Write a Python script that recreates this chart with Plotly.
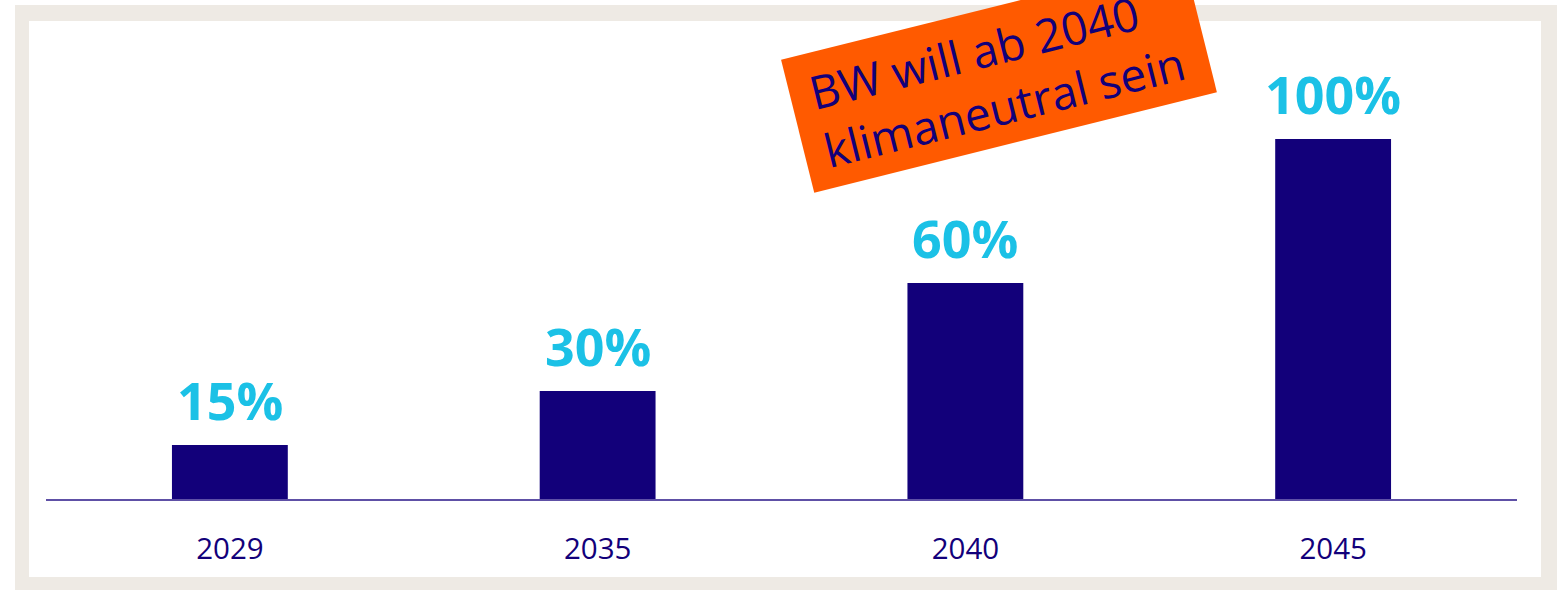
import math
import plotly.graph_objects as go

categories = ["2029", "2035", "2040", "2045"]
values = [15, 30, 60, 100]
value_labels = ["15%", "30%", "60%", "100%"]
callout_text = "BW will ab 2040<br>klimaneutral sein"

NAVY = "#12007A"
CYAN = "#1BC1E6"
ORANGE = "#FF5A00"
BEIGE = "#EEEAE4"

# plot area in pixels
L, R, T, B = 46, 1517, 21, 499
W, H = 1565, 595


def px_x(p):
    return (p - L) / (R - L)


def px_y(p):
    return (B - p) / (B - T)


fig = go.Figure()
fig.add_trace(go.Bar(
    x=categories, y=values, width=0.315,
    marker=dict(color=NAVY, line=dict(width=0)),
    hoverinfo="skip",
))

for i, (v, t) in enumerate(zip(values, value_labels)):
    fig.add_annotation(
        x=i, y=v, xref="x", yref="y", text="<b>" + t + "</b>", showarrow=False,
        yanchor="bottom", yshift=8,
        font=dict(family="Open Sans", size=52, color=CYAN),
    )

# callout box (rotated)
ANG = 14
bx, by = 999, 76
fig.add_annotation(
    x=px_x(bx), y=px_y(by), xref="paper", yref="paper",
    xanchor="center", yanchor="middle",
    text=" ", showarrow=False, textangle=-ANG,
    bgcolor=ORANGE, borderpad=0, width=414, height=136,
    font=dict(size=10, color=ORANGE),
)
du, dv = -2.0, 0.5
ca, sa = math.cos(math.radians(ANG)), math.sin(math.radians(ANG))
tx = bx + du * ca + dv * sa
ty = by - du * sa + dv * ca
fig.add_annotation(
    x=px_x(tx), y=px_y(ty), xref="paper", yref="paper",
    xanchor="center", yanchor="middle",
    text=callout_text, showarrow=False, textangle=-ANG,
    align="left",
    font=dict(family="Open Sans", size=46, color=NAVY),
)

# frame
fig.add_shape(type="rect", xref="paper", yref="paper", layer="below",
              x0=px_x(15), x1=px_x(1557), y0=px_y(590), y1=px_y(5),
              fillcolor=BEIGE, line=dict(width=0))
fig.add_shape(type="rect", xref="paper", yref="paper", layer="below",
              x0=px_x(29), x1=px_x(1541), y0=px_y(577), y1=px_y(21),
              fillcolor="white", line=dict(width=0))

fig.update_layout(
    width=W, height=H, autosize=False,
    margin=dict(l=L, r=W - R, t=T, b=H - B, pad=0),
    paper_bgcolor="white", plot_bgcolor="rgba(0,0,0,0)",
    showlegend=False,
    xaxis=dict(
        type="category", range=[-0.5, 3.5], showgrid=False, zeroline=False,
        showline=True, linecolor="#5E50A6", linewidth=2, ticks="",
        ticklabelstandoff=23,
        tickfont=dict(family="Open Sans", size=29.5, color=NAVY),
    ),
    yaxis=dict(range=[0, (B - T) / 3.6], showgrid=False, zeroline=False,
               showticklabels=False, showline=False, ticks=""),
)

fig.write_html("out.html")
